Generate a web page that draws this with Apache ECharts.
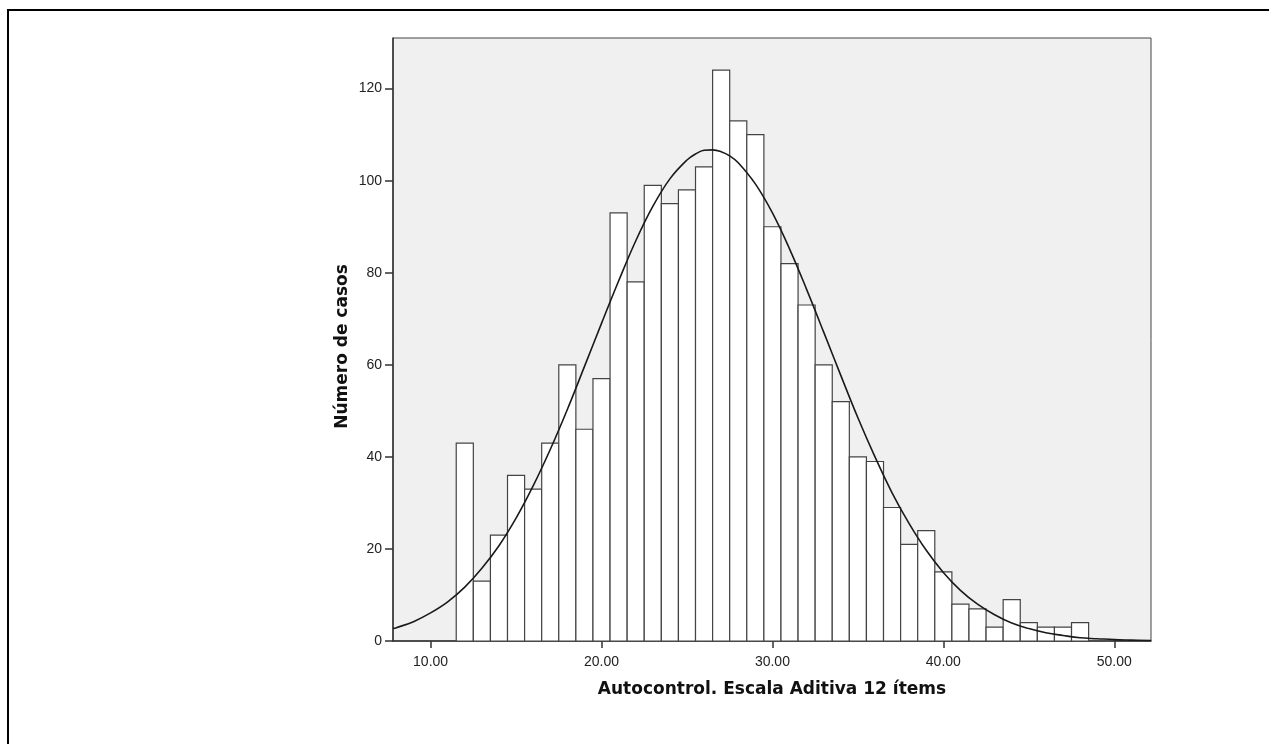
<!DOCTYPE html>
<html>
<head>
<meta charset="utf-8">
<script src="https://cdn.jsdelivr.net/npm/echarts@6/dist/echarts.min.js"></script>
<style>
html,body{margin:0;padding:0;background:#fff;}
#chart{width:1269px;height:744px;}
</style>
</head>
<body>
<div id="chart"></div>
<script>
// Histogram bins (centre value of each 1-unit bin) and counts
const binCenters = [12,13,14,15,16,17,18,19,20,21,22,23,24,25,26,27,28,29,30,31,32,33,34,35,36,37,38,39,40,41,42,43,44,45,46,47,48];
const counts     = [43,13,23,36,33,43,60,46,57,93,78,99,95,98,103,124,113,110,90,82,73,60,52,40,39,29,21,24,15,8,7,3,9,4,3,3,4];
// Normal curve points
const curveX = [7.8,8,9,10,11,12,13,14,15,16,17,18,19,20,21,22,23,24,25,25.5,26,26.5,27,27.5,28,29,30,31,32,33,34,35,36,37,38,39,40,41,42,43,44,45,46,47,48,49,50,51,52.15];
const curveY = [2.7,2.9,4.2,6.1,8.5,11.7,15.8,20.7,26.7,33.7,41.6,50.3,59.6,69.0,78.2,86.9,94.4,100.4,104.5,105.8,106.6,106.7,106.3,105.4,103.9,99.3,93.0,85.2,76.4,67.1,57.7,48.5,40.0,32.2,25.5,19.7,14.9,11.0,8.0,5.7,3.9,2.7,1.8,1.2,0.7,0.5,0.3,0.2,0.1];
const xTickValues = [10,20,30,40,50];
const xTitle = 'Autocontrol. Escala Aditiva 12 ítems';
const yTitle = 'Número de casos';

const chart = echarts.init(document.getElementById('chart'), null, {renderer:'canvas'});
const histData = binCenters.map((c,i)=>[c, counts[i]]);
const curveData = curveX.map((x,i)=>[x, curveY[i]]);

chart.setOption({
  backgroundColor:'#ffffff',
  animation:false,
  graphic:[{
    type:'rect', shape:{x:8, y:10, width:1400, height:900},
    style:{fill:'none', stroke:'#000', lineWidth:2}, z:100
  }],
  grid:{left:393, right:118, top:38, bottom:103, show:true, backgroundColor:'#f0f0f0', borderColor:'#444', borderWidth:1},
  xAxis:{
    type:'value', min:7.8, max:52.15,
    name:xTitle, nameLocation:'middle', nameGap:40,
    nameTextStyle:{fontFamily:'DejaVu Sans', fontWeight:'bold', fontSize:17, color:'#111'},
    axisLine:{show:true, lineStyle:{color:'#333', width:1.5}},
    axisTick:{show:true, length:7, lineStyle:{color:'#333', width:1.5}, customValues:xTickValues},
    axisLabel:{customValues:xTickValues, formatter:v=>v.toFixed(2), fontFamily:'Liberation Sans', fontSize:14, color:'#222', margin:14},
    splitLine:{show:false}
  },
  yAxis:{
    type:'value', min:0, max:131, interval:20,
    name:yTitle, nameLocation:'middle', nameGap:42, nameRotate:90, nameMoveOverlap:false,
    nameTextStyle:{fontFamily:'DejaVu Sans', fontWeight:'bold', fontSize:17, color:'#111', padding:[0,14,0,0]},
    axisLine:{show:true, lineStyle:{color:'#333', width:1.5}},
    axisTick:{show:true, length:8, lineStyle:{color:'#333', width:1.5}},
    axisLabel:{showMaxLabel:false, fontFamily:'Liberation Sans', fontSize:14, color:'#222', margin:11},
    splitLine:{show:false}
  },
  series:[
    {
      type:'custom', data:histData, z:2,
      renderItem:function(params, api){
        const c = api.value(0), v = api.value(1);
        const p1 = api.coord([c-0.5, v]);
        const p2 = api.coord([c+0.5, 0]);
        return {type:'rect', shape:{x:p1[0], y:p1[1], width:p2[0]-p1[0], height:p2[1]-p1[1]},
          style:{fill:'#ffffff', stroke:'#444', lineWidth:1.2}};
      }
    },
    {
      type:'line', data:curveData, smooth:0.4, showSymbol:false, z:5,
      lineStyle:{color:'#1a1a1a', width:1.6}
    }
  ]
});
</script>
</body>
</html>
